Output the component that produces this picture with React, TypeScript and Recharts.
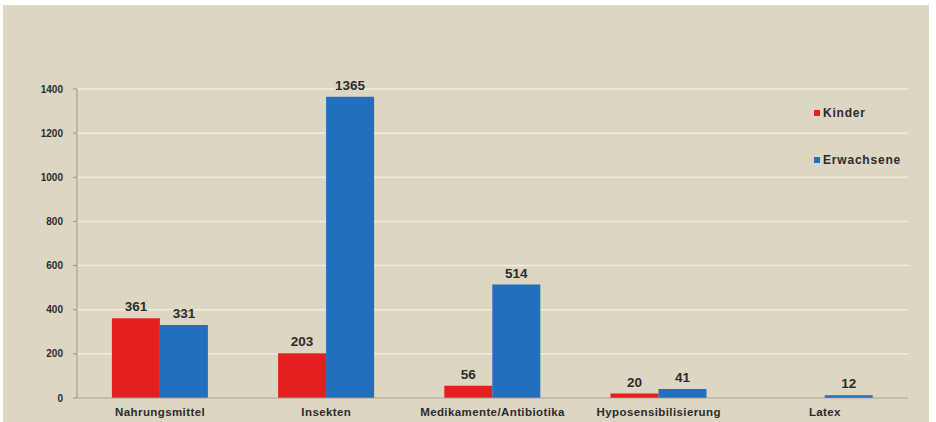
import React from 'react';
import { BarChart, Bar, XAxis, YAxis, CartesianGrid, LabelList } from 'recharts';

const categories = ['Nahrungsmittel', 'Insekten', 'Medikamente/Antibiotika', 'Hyposensibilisierung', 'Latex'];
const kinder: (number | null)[] = [361, 203, 56, 20, null];
const erwachsene: (number | null)[] = [331, 1365, 514, 41, 12];
const yTicks = [0, 200, 400, 600, 800, 1000, 1200, 1400];

const data = categories.map((c, i) => ({ name: c, Kinder: kinder[i], Erwachsene: erwachsene[i] }));

const RED = '#e3201f';
const BLUE = '#226fbd';
const FONT = '"Liberation Sans", Arial, sans-serif';

export default function App() {
  return (
    <div style={{ position: 'absolute', left: 0, top: 0, width: 936, height: 422, background: '#ffffff' }}>
      <div style={{ position: 'absolute', left: 3, top: 5, width: 926, height: 417, background: '#ddd6c2' }} />
      <div style={{ position: 'absolute', left: 0, top: 0 }}>
        <BarChart
          width={936}
          height={422}
          data={data}
          margin={{ top: 89, right: 28, bottom: 4, left: 0 }}
          barCategoryGap="21%"
          barGap={0}
        >
          <CartesianGrid vertical={false} stroke="#f1ecdd" strokeWidth={1.5} />
          <XAxis
            dataKey="name"
            height={20}
            axisLine={{ stroke: '#9a9483', strokeWidth: 1 }}
            tickLine={false}
            interval={0}
            tick={{ fill: '#2b2b2b', fontSize: 11.5, fontWeight: 700, fontFamily: FONT, letterSpacing: 0.4 }}
            tickMargin={4}
          />
          <YAxis
            width={77}
            domain={[0, 1400]}
            ticks={yTicks}
            interval={0}
            axisLine={{ stroke: '#9a9483', strokeWidth: 1 }}
            tickLine={{ stroke: '#9a9483' }}
            tickSize={4}
            tickMargin={10}
            tick={{ fill: '#2b2b2b', fontSize: 10, fontWeight: 700, fontFamily: FONT }}
          />
          <Bar dataKey="Kinder" fill={RED} isAnimationActive={false}>
            <LabelList dataKey="Kinder" position="top" offset={7} style={{ fill: '#2b2b2b', fontSize: 13.5, fontWeight: 700, fontFamily: FONT }} />
          </Bar>
          <Bar dataKey="Erwachsene" fill={BLUE} isAnimationActive={false}>
            <LabelList dataKey="Erwachsene" position="top" offset={7} style={{ fill: '#2b2b2b', fontSize: 13.5, fontWeight: 700, fontFamily: FONT }} />
          </Bar>
        </BarChart>
      </div>
      <div style={{ position: 'absolute', left: 814, top: 106, fontFamily: FONT, fontSize: 12, fontWeight: 700, letterSpacing: 0.8, color: '#2b2b2b', display: 'flex', alignItems: 'center' }}>
        <span style={{ display: 'inline-block', width: 6, height: 6, background: RED, marginRight: 3 }} />
        Kinder
      </div>
      <div style={{ position: 'absolute', left: 814, top: 153, fontFamily: FONT, fontSize: 12, fontWeight: 700, letterSpacing: 0.8, color: '#2b2b2b', display: 'flex', alignItems: 'center' }}>
        <span style={{ display: 'inline-block', width: 6, height: 6, background: BLUE, marginRight: 3 }} />
        Erwachsene
      </div>
    </div>
  );
}
